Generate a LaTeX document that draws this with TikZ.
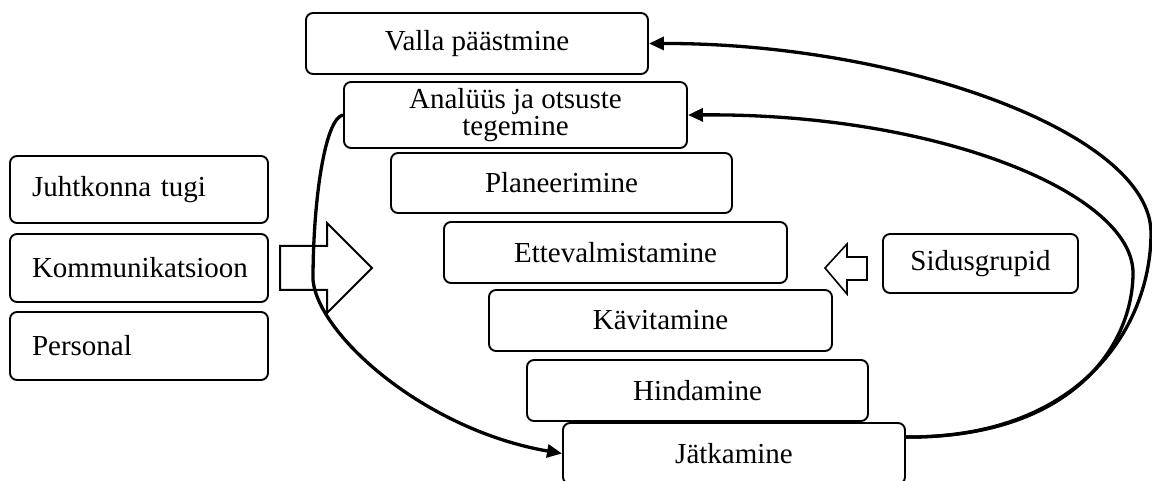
\documentclass[tikz,border=0pt]{standalone}
\usepackage{fontspec}
\setmainfont{Liberation Serif}
\usetikzlibrary{arrows.meta}
\begin{document}
\begin{tikzpicture}[x=1pt,y=-1pt,
  box/.style={draw, line width=1.9pt, rounded corners=7pt, inner sep=0pt,
    font=\fontsize{29}{27}\selectfont, align=center},
  sidebox/.style={box, align=left, inner xsep=22pt, text width=214pt, minimum height=68pt},
  conn/.style={line width=3.3pt, -{Triangle[length=15pt,width=13pt]}},
  blockarrow/.style={draw, line width=2pt, fill=white, line join=miter}]
\useasboundingbox (0,0) rectangle (1152,481);
% steps
\node[box, minimum width=342pt, minimum height=61pt] (valla) at (477,43.5) {Valla päästmine};
\node[box, minimum width=343pt, minimum height=66pt] (anal) at (515.5,115) {Analüüs ja otsuste\\tegemine};
\node[box, minimum width=341pt, minimum height=60pt] (plan) at (561.5,183) {Planeerimine};
\node[box, minimum width=343pt, minimum height=61pt] (ette) at (615.5,252.5) {Ettevalmistamine};
\node[box, minimum width=343pt, minimum height=61pt] (kavi) at (660.5,320.5) {Kävitamine};
\node[box, minimum width=341pt, minimum height=61pt] (hind) at (697.5,390.5) {Hindamine};
\node[box, minimum width=342pt, minimum height=61pt] (jat) at (734,453.5) {Jätkamine};
% side boxes
\node[sidebox, minimum height=67pt] (juht) at (139,189.5) {Juhtkonna tugi};
\node[sidebox] (komm) at (139,268) {Kommunikatsioon};
\node[sidebox] (pers) at (139,346) {Personal};
\node[box, minimum width=195pt, minimum height=59pt] (sidus) at (980.5,263.5) {Sidusgrupid};
% block arrows
\draw[blockarrow] (280,246) -- (327,246) -- (327,223) -- (372,268) -- (327,313) -- (327,290) -- (280,290) -- cycle;
\draw[blockarrow, line width=1.6pt] (825,268) -- (847,244) -- (847,257) -- (867,257) -- (867,280) -- (847,280) -- (847,294) -- cycle;
% connectors
\draw[conn] ([yshift=-15pt]jat.north east) .. controls (1085,438) and (1151,323) .. (1151,233)
  .. controls (1151,133) and (900,43) .. (valla.east);
\draw[conn] ([yshift=-15pt]jat.north east) .. controls (1075,438) and (1133,343) .. (1133,273)
  .. controls (1133,193) and (937,113) .. (anal.east);
\draw[conn] (anal.west) .. controls (325,118) and (313,200) .. (313,280)
  .. controls (318,335) and (425,430) .. (jat.west);
\end{tikzpicture}
\end{document}
